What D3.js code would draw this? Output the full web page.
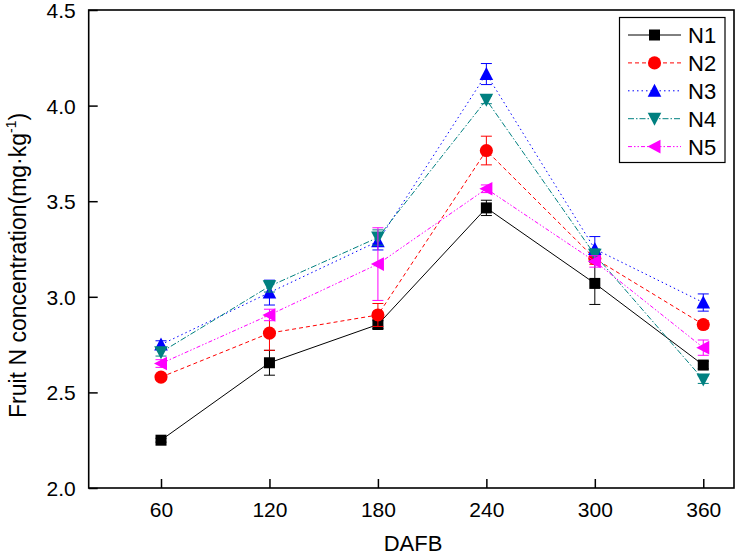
<!DOCTYPE html>
<html>
<head>
<meta charset="utf-8">
<script src="https://cdn.jsdelivr.net/npm/d3@7"></script>
<style>
  html, body { margin: 0; padding: 0; background: #fff; }
  svg { display: block; font-family: "Liberation Sans", Arial, sans-serif; }
</style>
</head>
<body>
<svg id="chart" width="740" height="557"></svg>
<script>
const days = [60, 120, 180, 240, 300, 360];
const seriesNames = ["N1", "N2", "N3", "N4", "N5"];
const N1 = [2.25, 2.655, 2.855, 3.465, 3.07, 2.643];
const N2 = [2.58, 2.81, 2.905, 3.765, 3.20, 2.855];
const N3 = [2.75, 3.022, 3.29, 4.165, 3.25, 2.97];
const N4 = [2.71, 3.055, 3.31, 4.03, 3.22, 2.567];
const N5 = [2.651, 2.905, 3.171, 3.565, 3.185, 2.734];
const N1err = [0.01, 0.065, 0.02, 0.04, 0.11, 0.02];
const N2err = [0.01, 0.09, 0.06, 0.075, 0.03, 0.02];
const N3err = [0.02, 0.065, 0.045, 0.055, 0.065, 0.045];
const N4err = [0.02, 0.03, 0.04, 0.02, 0.03, 0.02];
const N5err = [0.02, 0.03, 0.19, 0.02, 0.03, 0.04];
const yTicks = [2.0, 2.5, 3.0, 3.5, 4.0, 4.5];
const xTicks = [60, 120, 180, 240, 300, 360];

const values = [N1, N2, N3, N4, N5];
const errors = [N1err, N2err, N3err, N4err, N5err];
const colors = ["#000000", "#ff0000", "#0000ff", "#008080", "#ff00ff"];
const dashes = [null, "4,3", "1.5,3", "6,2,1.5,2", "4,2,1.5,2,1.5,2"];
const shapes = ["square", "circle", "up", "down", "left"];

const svg = d3.select("#chart");
const L = 88.7, R = 734, T = 10, B = 488;
const x = d3.scaleLinear().domain([20, 377]).range([L, R]);
const y = d3.scaleLinear().domain([2.0, 4.5]).range([B, T]);

function markerPath(shape) {
  switch (shape) {
    case "square": return "M-5.5,-5.5H5.5V5.5H-5.5Z";
    case "circle": return d3.symbol(d3.symbolCircle, 135)();
    case "up": return "M0,-7L6.8,6L-6.8,6Z";
    case "down": return "M0,7L6.8,-6L-6.8,-6Z";
    case "left": return "M-7,0L6,-6.8L6,6.8Z";
  }
}

// Axes
const gx = svg.append("g").attr("transform", `translate(0,${B})`)
  .call(d3.axisBottom(x).tickValues(xTicks).tickSizeInner(-9).tickSizeOuter(0).tickPadding(14));
const gy = svg.append("g").attr("transform", `translate(${L},0)`)
  .call(d3.axisLeft(y).tickValues(yTicks).tickFormat(d3.format(".1f")).tickSizeInner(-9).tickSizeOuter(0).tickPadding(13));
[gx, gy].forEach(g => {
  g.select(".domain").remove();
  g.selectAll(".tick line").attr("stroke", "#000").attr("stroke-width", 1.5);
  g.selectAll(".tick text").attr("font-size", 21).attr("fill", "#000")
    .attr("font-family", "'Liberation Sans', Arial, sans-serif");
});
gy.selectAll(".tick text").attr("dy", "0.36em");

// frame
svg.append("rect").attr("x", L).attr("y", T).attr("width", R - L).attr("height", B - T)
  .attr("fill", "none").attr("stroke", "#000").attr("stroke-width", 1.6);

// Series
const line = d3.line().x((d, i) => x(days[i])).y(d => y(d));
values.forEach((vals, s) => {
  const g = svg.append("g");
  g.append("path").datum(vals).attr("d", line)
    .attr("fill", "none").attr("stroke", colors[s]).attr("stroke-width", 1)
    .attr("stroke-dasharray", dashes[s]);
  const eb = g.selectAll(".eb").data(vals).enter().append("g");
  eb.append("line").attr("x1", (d, i) => x(days[i])).attr("x2", (d, i) => x(days[i]))
    .attr("y1", (d, i) => y(d + errors[s][i])).attr("y2", (d, i) => y(d - errors[s][i]))
    .attr("stroke", colors[s]).attr("stroke-width", 1);
  [1, -1].forEach(sign => {
    eb.append("line").attr("x1", (d, i) => x(days[i]) - 5.5).attr("x2", (d, i) => x(days[i]) + 5.5)
      .attr("y1", (d, i) => y(d + sign * errors[s][i])).attr("y2", (d, i) => y(d + sign * errors[s][i]))
      .attr("stroke", colors[s]).attr("stroke-width", 1);
  });
  g.selectAll(".mk").data(vals).enter().append("path")
    .attr("d", markerPath(shapes[s]))
    .attr("transform", (d, i) => `translate(${x(days[i])},${y(d)})`)
    .attr("fill", colors[s]);
});

// Legend
const lg = svg.append("g");
lg.append("rect").attr("x", 619.5).attr("y", 17.5).attr("width", 105.5).attr("height", 145)
  .attr("fill", "#fff").attr("stroke", "#000").attr("stroke-width", 1.2);
seriesNames.forEach((name, s) => {
  const yy = 35 + s * 27.9;
  lg.append("line").attr("x1", 628).attr("x2", 681).attr("y1", yy).attr("y2", yy)
    .attr("stroke", colors[s]).attr("stroke-width", 1).attr("stroke-dasharray", dashes[s]);
  lg.append("path").attr("d", markerPath(shapes[s])).attr("transform", `translate(654.5,${yy})`)
    .attr("fill", colors[s]);
  lg.append("text").attr("x", 688).attr("y", yy).attr("dy", "0.36em")
    .attr("font-size", 22).attr("fill", "#000").text(name);
});

// Axis titles
svg.append("text").attr("x", 413).attr("y", 551).attr("text-anchor", "middle")
  .attr("font-size", 22).attr("fill", "#000").text("DAFB");
const yt = svg.append("text").attr("transform", "translate(26,418) rotate(-90)")
  .attr("text-anchor", "start").attr("font-size", 23).attr("fill", "#000");
yt.append("tspan").text("Fruit N concentration(mg·kg");
yt.append("tspan").attr("font-size", 14).attr("dy", -10).text("-1");
yt.append("tspan").attr("dy", 10).text(")");
</script>
</body>
</html>
